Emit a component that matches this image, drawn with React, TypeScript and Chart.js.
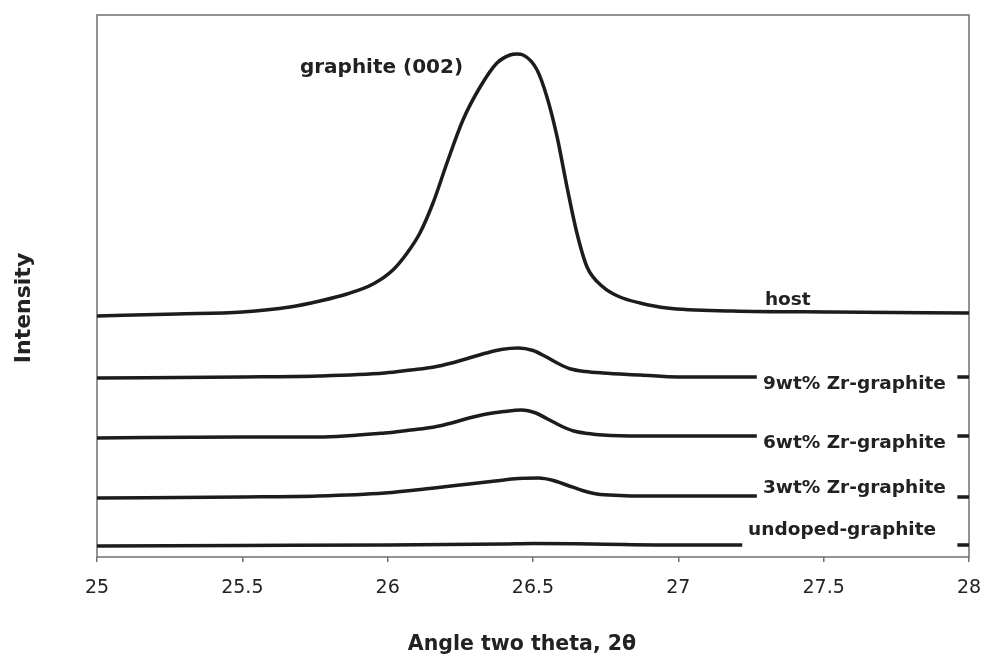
import React, { useEffect, useRef } from "react";
import { Chart, registerables } from "chart.js";

Chart.register(...registerables);

// Angle two theta (degrees) and relative intensity (arbitrary units, stacked offsets)
const hostX = [25.0, 25.275, 25.5, 25.664, 25.767, 25.86, 25.95, 26.018, 26.067, 26.111, 26.156, 26.204, 26.259, 26.318, 26.376, 26.421, 26.445, 26.466, 26.514, 26.548, 26.583, 26.617, 26.651, 26.686, 26.741, 26.799, 26.868, 26.961, 27.188, 27.532, 28.0];
const hostY = [241, 243, 245, 250, 256, 263, 273, 287, 304, 324, 354, 394, 437, 470, 494, 502, 503, 502, 487, 460, 420, 370, 324, 290, 270, 260, 254, 249, 246, 245, 244];

const zr9X = [25.0, 25.5, 25.76, 25.99, 26.08, 26.16, 26.22, 26.28, 26.34, 26.39, 26.45, 26.5, 26.54, 26.59, 26.63, 26.68, 26.74, 26.87, 27.0, 27.27, 27.6, 27.96, 28.0];
const zr9Y = [179, 180, 181, 184, 187, 190, 194, 199, 204, 207.5, 209, 206.5, 201, 193, 188, 185.5, 184, 182, 180, 180, null, 180, 180];

const zr6X = [25.0, 25.5, 25.76, 25.99, 26.08, 26.16, 26.22, 26.28, 26.34, 26.4, 26.46, 26.51, 26.55, 26.6, 26.64, 26.69, 26.74, 26.87, 27.27, 27.6, 27.96, 28.0];
const zr6Y = [119, 120, 120, 124, 127, 130, 134, 139, 143, 145.5, 147, 144, 138, 130.5, 126, 123.5, 122, 121, 121, null, 121, 121];

const zr3X = [25.0, 25.5, 25.76, 25.99, 26.16, 26.28, 26.37, 26.45, 26.52, 26.57, 26.62, 26.67, 26.72, 26.8, 26.87, 27.27, 27.6, 27.96, 28.0];
const zr3Y = [59, 60, 61, 64, 69, 73, 76, 78.5, 79, 76.5, 71.5, 66.5, 63, 61.5, 61, 61, null, 60, 60];

const undopedX = [25.0, 25.5, 26.0, 26.4, 26.5, 26.7, 27.0, 27.22, 27.6, 27.96, 28.0];
const undopedY = [11, 11.5, 12, 13, 13.5, 13, 12, 12, null, 12, 12];

const xTicks = [25, 25.5, 26, 26.5, 27, 27.5, 28];
const xTickLabels = ["25", "25.5", "26", "26.5", "27", "27.5", "28"];

const seriesNames = ["host", "9wt% Zr-graphite", "6wt% Zr-graphite", "3wt% Zr-graphite", "undoped-graphite"];
// label anchor positions in data units
const labelX = [27.298, 27.291, 27.291, 27.291, 27.24];
const labelY = [252, 168, 109, 64, 22];

const peakLabel = "graphite (002)";
const peakLabelX = 25.698;
const peakLabelY = 484;

const xTitle = "Angle two theta, 2\u03b8";
const yTitle = "Intensity";

const toPoints = (xs: number[], ys: (number | null)[]) => xs.map((x, i) => ({ x, y: ys[i] }));

export default function App() {
  const ref = useRef<HTMLCanvasElement | null>(null);

  useEffect(() => {
    if (!ref.current) return;
    Chart.defaults.font.family = "'DejaVu Sans', sans-serif";
    const lineColor = "#1c1c1c";
    const mk = (label: string, xs: number[], ys: (number | null)[]) => ({
      label,
      data: toPoints(xs, ys),
      borderColor: lineColor,
      borderWidth: 3.5,
      pointRadius: 0,
      fill: false,
      spanGaps: false,
      cubicInterpolationMode: "monotone" as const,
      borderCapStyle: "butt" as const,
      borderJoinStyle: "round" as const,
    });

    const annot = {
      id: "annot",
      beforeDatasetsDraw(chart: any) {
        const { ctx, chartArea } = chart;
        ctx.save();
        ctx.strokeStyle = "#707070";
        ctx.lineWidth = 1.5;
        ctx.strokeRect(chartArea.left, chartArea.top, chartArea.right - chartArea.left, chartArea.bottom - chartArea.top);
        ctx.restore();
      },
      afterDraw(chart: any) {
        const { ctx } = chart;
        const xs = chart.scales.x;
        const ys = chart.scales.y;
        ctx.save();
        ctx.fillStyle = "#222";
        ctx.textBaseline = "alphabetic";
        ctx.textAlign = "left";
        ctx.font = "bold 18.5px 'DejaVu Sans'";
        seriesNames.forEach((n, i) => {
          ctx.fillText(n, xs.getPixelForValue(labelX[i]), ys.getPixelForValue(labelY[i]));
        });
        ctx.font = "bold 20px 'DejaVu Sans'";
        ctx.fillText(peakLabel, xs.getPixelForValue(peakLabelX), ys.getPixelForValue(peakLabelY));
        // axis titles
        ctx.font = "bold 20.5px 'DejaVu Sans'";
        ctx.textAlign = "center";
        ctx.fillText(xTitle, 522, 650);
        ctx.translate(30, 308);
        ctx.rotate(-Math.PI / 2);
        ctx.font = "bold 22px 'DejaVu Sans'";
        ctx.fillText(yTitle, 0, 0);
        ctx.restore();
      },
    };

    const chart = new Chart(ref.current, {
      type: "line",
      data: {
        datasets: [
          mk(seriesNames[0], hostX, hostY),
          mk(seriesNames[1], zr9X, zr9Y),
          mk(seriesNames[2], zr6X, zr6Y),
          mk(seriesNames[3], zr3X, zr3Y),
          mk(seriesNames[4], undopedX, undopedY),
        ],
      },
      options: {
        animation: false,
        responsive: false,
        layout: { padding: { left: 0, right: 14, top: 15, bottom: 0 } },
        plugins: { legend: { display: false }, tooltip: { enabled: false } },
        scales: {
          x: {
            type: "linear",
            min: 25,
            max: 28,
            afterFit: (s: any) => { s.height = 103; s.paddingLeft = 0; s.paddingRight = 0; },
            afterBuildTicks: (s: any) => { s.ticks = xTicks.map((v) => ({ value: v })); },
            ticks: {
              callback: (v: any) => { const i = xTicks.indexOf(Number(v)); return i >= 0 ? xTickLabels[i] : ""; },
              color: "#222",
              font: { size: 19 },
              padding: 15,
              maxRotation: 0,
              autoSkip: false,
            },
            grid: { display: true, drawOnChartArea: false, drawTicks: true, tickLength: 5, color: "#707070", lineWidth: 1.5 },
            border: { display: false },
          },
          y: {
            type: "linear",
            min: 0,
            max: 542,
            afterFit: (s: any) => { s.width = 97; },
            ticks: { display: false },
            grid: { display: false },
            border: { display: false },
          },
        },
      },
      plugins: [annot],
    });
    return () => chart.destroy();
  }, []);

  return (
    <div style={{ position: "fixed", left: 0, top: 0, width: 983, height: 660, background: "#fff" }}>
      <canvas ref={ref} width={983} height={660} style={{ display: "block" }} />
    </div>
  );
}
